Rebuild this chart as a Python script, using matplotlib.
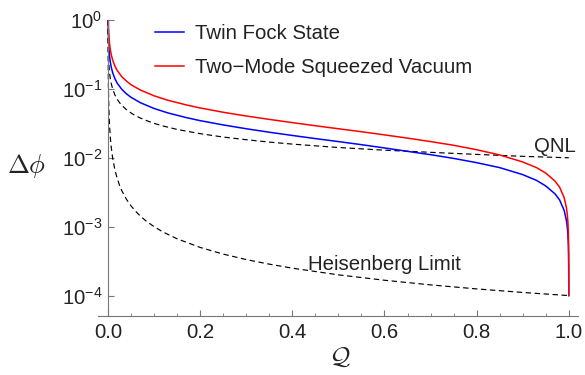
import numpy as np
import matplotlib
matplotlib.use("Agg")
import matplotlib.pyplot as plt
from matplotlib.ticker import FixedLocator, FuncFormatter

plt.rcParams['font.family'] = ['Liberation Sans', 'DejaVu Sans']
plt.rcParams['mathtext.fontset'] = 'custom'
plt.rcParams['mathtext.rm'] = 'Liberation Sans'
plt.rcParams['mathtext.it'] = 'Liberation Sans:italic'
plt.rcParams['mathtext.default'] = 'it'

# ---- data ----
q_limits = [0.0001, 0.00015, 0.0002, 0.0003, 0.0005, 0.0007, 0.001, 0.0015, 0.002,
            0.003, 0.004, 0.005, 0.007, 0.01, 0.015, 0.02, 0.025, 0.03, 0.04, 0.05,
            0.06, 0.07, 0.08, 0.1, 0.12, 0.15, 0.2, 0.25, 0.3, 0.35, 0.4, 0.5, 0.6,
            0.7, 0.8, 0.9, 1.0]
qnl = [1.0, 0.816, 0.707, 0.577, 0.447, 0.378, 0.316, 0.258, 0.224,
       0.183, 0.158, 0.141, 0.120, 0.100, 0.0816, 0.0707, 0.0632, 0.0577, 0.05, 0.0447,
       0.0408, 0.0378, 0.0354, 0.0316, 0.0289, 0.0258, 0.0224, 0.02, 0.0183, 0.0169, 0.0158, 0.0141, 0.0129,
       0.0120, 0.0112, 0.0105, 0.0100]
heisenberg = [1.0, 0.667, 0.5, 0.333, 0.2, 0.143, 0.1, 0.0667, 0.05,
              0.0333, 0.025, 0.02, 0.0143, 0.01, 0.00667, 0.005, 0.004, 0.00333, 0.0025, 0.002,
              0.00167, 0.00143, 0.00125, 0.001, 0.000833, 0.000667, 0.0005, 0.0004, 0.000333, 0.000286, 0.00025, 0.0002, 0.000167,
              0.000143, 0.000125, 0.000111, 0.0001]

q_states = [0.0003, 0.0004, 0.0005, 0.0007, 0.001, 0.0015, 0.002, 0.003, 0.004, 0.005,
            0.007, 0.01, 0.015, 0.02, 0.03, 0.04, 0.05, 0.07, 0.1, 0.13, 0.17, 0.2,
            0.25, 0.3, 0.35, 0.4, 0.45, 0.5, 0.55, 0.6, 0.65, 0.7, 0.75, 0.8, 0.85,
            0.9, 0.93, 0.95, 0.97, 0.98, 0.99, 0.995, 0.997, 0.998, 0.999, 0.9995,
            0.9998, 1.0]
twin_fock = [1.05, 0.90, 0.80, 0.67, 0.557, 0.452, 0.39, 0.318, 0.275, 0.245,
             0.207, 0.173, 0.1405, 0.121, 0.0985, 0.0849, 0.0755, 0.0631, 0.052, 0.0448, 0.0383, 0.0346,
             0.030, 0.0264, 0.0235, 0.0211, 0.0190, 0.0172, 0.0155, 0.0139, 0.0124, 0.0111, 0.0098, 0.0085, 0.0072,
             0.0057, 0.0047, 0.0039, 0.0030, 0.00245, 0.00172, 0.00122, 0.00095, 0.00078, 0.00056, 0.0004,
             0.000265, 0.0001]
tmsv = [1.56, 1.35, 1.20, 1.01, 0.842, 0.686, 0.593, 0.484, 0.418, 0.374,
        0.316, 0.263, 0.214, 0.185, 0.150, 0.130, 0.115, 0.0964, 0.0794, 0.0684, 0.0585, 0.0529,
        0.0458, 0.0404, 0.0361, 0.0324, 0.0292, 0.0264, 0.0239, 0.0215, 0.0193, 0.0172, 0.0152, 0.0131, 0.0110,
        0.0087, 0.0072, 0.0060, 0.0046, 0.00375, 0.00264, 0.00187, 0.00145, 0.00119, 0.00084, 0.0006,
        0.000387, 0.0001]

x_ticks = [0.0, 0.2, 0.4, 0.6, 0.8, 1.0]
x_minor = [0.05, 0.1, 0.15, 0.25, 0.3, 0.35, 0.45, 0.5, 0.55, 0.65, 0.7, 0.75, 0.85, 0.9, 0.95]
y_ticks = [1e-4, 1e-3, 1e-2, 1e-1, 1e0]

legend_labels = ['Twin Fock State', 'Two\u2212Mode Squeezed Vacuum']

# ---- figure ----
W, H = 585, 375
FS = 14.7
fig = plt.figure(figsize=(W / 100, H / 100), dpi=100)
ax = fig.add_axes([98 / W, 1 - 315.7 / H, (578 - 98) / W, (315.7 - 20) / H])

dash = (4.6, 3.0)
ax.plot(q_limits, qnl, color='black', lw=0.85, dashes=dash)
ax.plot(q_limits, heisenberg, color='black', lw=0.85, dashes=dash)
l1, = ax.plot(q_states, twin_fock, color='#0000ff', lw=1.1)
l2, = ax.plot(q_states, tmsv, color='#ff0000', lw=1.1)

ax.set_yscale('log')
ax.set_xlim(-0.0217, 1.02)
ax.set_ylim(10 ** (-4.292), 1.0)

axcol = '#777777'
txtcol = '#222222'
for s in ['top', 'right']:
    ax.spines[s].set_visible(False)
ax.spines['left'].set_position(('data', 0))
for s in ['left', 'bottom']:
    ax.spines[s].set_color(axcol)
    ax.spines[s].set_linewidth(0.8)

ax.xaxis.set_major_locator(FixedLocator(x_ticks))
ax.xaxis.set_minor_locator(FixedLocator(x_minor))
ax.xaxis.set_major_formatter(FuncFormatter(lambda v, p: f'{v:.1f}'))
ax.yaxis.set_major_locator(FixedLocator(y_ticks))
ax.yaxis.set_minor_locator(FixedLocator([]))
ax.yaxis.set_major_formatter(FuncFormatter(
    lambda v, p: r'$\mathregular{10^{%d}}$' % int(round(np.log10(v)))))

ax.tick_params(axis='both', which='major', direction='in', length=4.3, width=0.8,
               color=axcol, labelsize=FS, labelcolor=txtcol)
ax.tick_params(axis='x', which='minor', direction='in', length=2.2, width=0.6, color=axcol)
ax.tick_params(axis='x', which='major', pad=5)
ax.tick_params(axis='y', which='major', pad=4)

# axis labels
fig.text(27 / W, 1 - 166 / H, r'$\Delta\phi$', math_fontfamily='cm', fontsize=19,
         ha='center', va='center', color=txtcol)
fig.text(340 / W, 1 - 357 / H, r'$\mathcal{Q}$', math_fontfamily='cm', fontsize=18,
         ha='center', va='center', color=txtcol)

# curve annotations
ax.text(0.97, 10 ** (-(147 - 20) / 68.9), 'QNL', fontsize=FS, color=txtcol,
        ha='center', va='center')
ax.text(0.765, 10 ** (-(265 - 20) / 68.9), 'Heisenberg Limit', fontsize=FS, color=txtcol,
        ha='right', va='center')

leg = ax.legend([l1, l2], legend_labels, loc='upper left',
                bbox_to_anchor=(155 / W, 1 - 24 / H), bbox_transform=fig.transFigure,
                frameon=False, fontsize=FS, handlelength=1.4, handletextpad=0.55,
                labelspacing=0.75, borderpad=0, borderaxespad=0)
for t in leg.get_texts():
    t.set_color(txtcol)

fig.savefig('out.png', dpi=100)
